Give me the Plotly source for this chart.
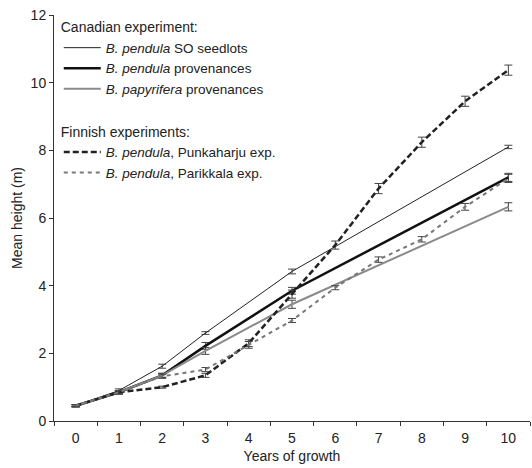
import plotly.graph_objects as go

# Data
so_years = [0, 1, 2, 3, 5, 10]
so_vals = [0.45, 0.9, 1.62, 2.6, 4.42, 8.1]
so_err = [0.03, 0.05, 0.06, 0.04, 0.07, 0.05]

bp_years = [0, 1, 2, 3, 5, 10]
bp_vals = [0.45, 0.85, 1.35, 2.22, 3.85, 7.2]
bp_err = [0.03, 0.05, 0.06, 0.1, 0.1, 0.12]

pa_years = [0, 1, 2, 3, 5, 10]
pa_vals = [0.45, 0.85, 1.35, 2.07, 3.45, 6.33]
pa_err = [0.03, 0.05, 0.06, 0.1, 0.12, 0.12]

pu_years = [0, 1, 2, 3, 4, 5, 6, 7, 8, 9, 10]
pu_vals = [0.45, 0.85, 1.0, 1.35, 2.3, 3.75, 5.2, 6.87, 8.24, 9.45, 10.37]
pu_err = [0.03, 0.05, 0.03, 0.06, 0.1, 0.12, 0.12, 0.15, 0.15, 0.15, 0.15]

pk_years = [0, 1, 2, 3, 4, 5, 6, 7, 8, 9, 10]
pk_vals = [0.45, 0.85, 1.32, 1.52, 2.25, 2.97, 3.94, 4.77, 5.37, 6.33, 7.17]
pk_err = [0.03, 0.05, 0.06, 0.06, 0.1, 0.06, 0.06, 0.08, 0.08, 0.1, 0.12]

x_ticks = list(range(0, 11))
y_ticks = [0, 2, 4, 6, 8, 10, 12]

FONT = "Liberation Sans, Arial, sans-serif"
ERRC = "#444"

fig = go.Figure()

def add(name, xs, ys, es, color, width, dash, legend):
    fig.add_trace(go.Scatter(
        x=xs, y=ys, mode="lines", name=name,
        line=dict(color=color, width=width, dash=dash),
        error_y=dict(type="data", array=es, visible=True, color=ERRC, thickness=1, width=4),
        legend=legend,
    ))

add("<i>B. pendula</i> SO seedlots", so_years, so_vals, so_err, "#222", 1, "solid", "legend")
add("<i>B. pendula</i> provenances", bp_years, bp_vals, bp_err, "#111", 2.5, "solid", "legend")
add("<i>B. papyrifera</i> provenances", pa_years, pa_vals, pa_err, "#8a8a8a", 2, "solid", "legend")
add("<i>B. pendula</i>, Punkaharju exp.", pu_years, pu_vals, pu_err, "#222", 2.5, "6px,3px", "legend2")
add("<i>B. pendula</i>, Parikkala exp.", pk_years, pk_vals, pk_err, "#777", 2, "4px,4px", "legend2")

def legend_cfg(title, y):
    return dict(
        title=dict(text=title, font=dict(size=14, family=FONT, color="#222")),
        x=0.01, y=y, xanchor="left", yanchor="top",
        bgcolor="rgba(0,0,0,0)", font=dict(size=13.5, family=FONT, color="#222"),
        itemwidth=37, tracegroupgap=0,
    )

fig.update_layout(
    width=532, height=468,
    margin=dict(l=54, r=2, t=15, b=47),
    plot_bgcolor="white", paper_bgcolor="white",
    font=dict(family=FONT, size=14, color="#222"),
    showlegend=True,
    legend=legend_cfg("Canadian experiment:", 1.002),
    legend2=legend_cfg("Finnish experiments:", 0.745),
    xaxis=dict(
        range=[-0.5, 10.5], tickvals=x_ticks, ticktext=[str(v) for v in x_ticks],
        ticks="", showgrid=False, zeroline=False,
        showline=True, linecolor="#333", linewidth=1,
        minor=dict(ticks="outside", ticklen=4, tick0=-0.5, dtick=1, tickcolor="#333", showgrid=False),
        ticklabelstandoff=4,
        title=dict(text="Years of growth", standoff=6, font=dict(size=14)),
        tickfont=dict(size=14),
    ),
    yaxis=dict(
        range=[0, 12], tickvals=y_ticks, ticks="outside", ticklen=4, tickcolor="#333",
        showgrid=False, zeroline=False,
        showline=True, linecolor="#333", linewidth=1,
        title=dict(text="Mean height (m)", standoff=4, font=dict(size=14)),
        tickfont=dict(size=14),
    ),
)

fig.write_html("out.html")
